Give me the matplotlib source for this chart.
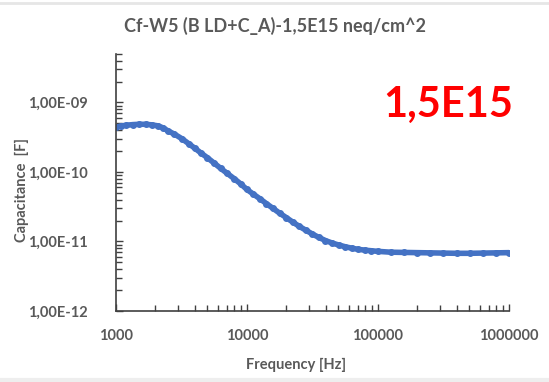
import matplotlib.pyplot as plt
from matplotlib.lines import Line2D
from matplotlib.ticker import FuncFormatter, LogLocator, NullFormatter

# data
freq = [1000, 1100, 1200, 1350, 1500, 1700, 1900, 2100, 2300, 2500,
        2800, 3200, 3600, 4000, 4500, 5000, 5600, 6300, 7100, 8000,
        9000, 10000, 11200, 12600, 14100, 15800, 17800, 20000, 22400, 25100,
        28200, 31600, 35500, 39800, 44700, 50100, 56200, 63100, 70800, 79400,
        89100, 100000, 125900, 158500, 199500, 251200, 316200, 398100, 501200, 631000,
        794300, 1000000]
cap = [4.4e-10, 4.6e-10, 4.7e-10, 4.8e-10, 4.85e-10, 4.85e-10, 4.75e-10, 4.6e-10, 4.3e-10, 3.9e-10,
       3.5e-10, 3.0e-10, 2.55e-10, 2.2e-10, 1.85e-10, 1.6e-10, 1.35e-10, 1.13e-10, 9.5e-11, 8.0e-11,
       6.7e-11, 5.6e-11, 4.8e-11, 4.1e-11, 3.5e-11, 3.0e-11, 2.55e-11, 2.2e-11, 1.9e-11, 1.65e-11,
       1.45e-11, 1.28e-11, 1.14e-11, 1.03e-11, 9.5e-12, 8.9e-12, 8.4e-12, 8.0e-12, 7.7e-12, 7.5e-12,
       7.35e-12, 7.2e-12, 7.0e-12, 6.95e-12, 6.9e-12, 6.85e-12, 6.8e-12, 6.75e-12, 6.75e-12, 6.8e-12,
       6.85e-12, 6.9e-12]

xticks = [1000, 10000, 100000, 1000000]
yticks = [1e-12, 1e-11, 1e-10, 1e-9]

title = 'Cf-W5 (B LD+C_A)-1,5E15 neq/cm^2'
fluence = '1,5E15'

plt.rcParams['font.family'] = ['Lato', 'DejaVu Sans']
gray = '#595959'

fig = plt.figure(figsize=(5.49, 3.82), dpi=100)
ax = fig.add_axes([0.211, 0.186, 0.716, 0.673])

ax.plot(freq, cap, color='#4472C4', linewidth=4, marker='o', markersize=4,
        solid_capstyle='round')

ax.set_xscale('log')
ax.set_yscale('log')
ax.set_xlim(1000, 1000000)
ax.set_ylim(1e-12, 5e-9)

ax.set_xticks(xticks)
ax.set_yticks(yticks)
ax.xaxis.set_minor_locator(LogLocator(base=10, subs=range(2, 10), numticks=20))
ax.yaxis.set_minor_locator(LogLocator(base=10, subs=range(2, 10), numticks=20))
ax.xaxis.set_minor_formatter(NullFormatter())
ax.yaxis.set_minor_formatter(NullFormatter())
ax.xaxis.set_major_formatter(FuncFormatter(lambda v, p: '%d' % round(v)))
ax.yaxis.set_major_formatter(FuncFormatter(lambda v, p: ('%.2E' % v).replace('.', ',')))

for s in ['top', 'right']:
    ax.spines[s].set_visible(False)
for s in ['left', 'bottom']:
    ax.spines[s].set_color('#404040')
    ax.spines[s].set_linewidth(1.2)

ax.tick_params(which='both', direction='in', color='#404040', width=1)
ax.tick_params(which='major', length=5, labelsize=10.5, labelcolor=gray)
ax.tick_params(axis='y', pad=20)
ax.tick_params(axis='x', pad=13)
ax.tick_params(which='minor', length=4)
for lab in ax.get_xticklabels() + ax.get_yticklabels():
    lab.set_fontweight('bold')

ax.set_xlabel('Frequency [Hz]', fontsize=10.5, color=gray, fontweight='bold')
ax.set_ylabel('Capacitance  [F]', fontsize=10.5, color=gray, fontweight='bold')
ax.xaxis.set_label_coords(0.458, -0.183)
ax.yaxis.set_label_coords(-0.221, 0.47)
fig.text(0.5, 0.932, title, ha='center', va='center', fontsize=13,
         color=gray, fontweight='bold')
ax.text(1.012, 0.80, fluence, transform=ax.transAxes, ha='right', va='center',
        fontsize=30, color='#FF0000', fontweight='bold')

# light frame lines at top and bottom of the picture
fig.add_artist(Line2D([0, 1], [0.992, 0.992], color='#E6E6E6', linewidth=2))
fig.add_artist(Line2D([0, 1], [0.004, 0.004], color='#EEEEEE', linewidth=3))

fig.savefig('out.png', dpi=100)
